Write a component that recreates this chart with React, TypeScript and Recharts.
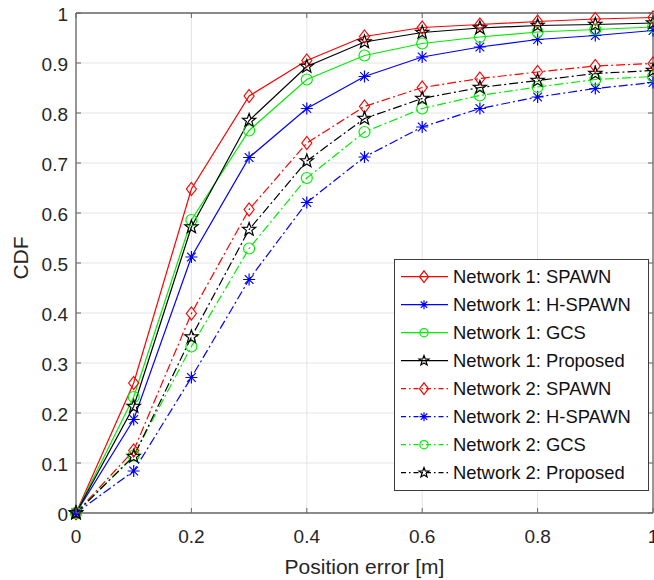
import React from "react";
import { CartesianGrid, Legend, Line, LineChart, ReferenceLine, XAxis, YAxis } from "recharts";

// CDF of position error for two networks and four localisation schemes
const positionError = [0, 0.1, 0.2, 0.3, 0.4, 0.5, 0.6, 0.7, 0.8, 0.9, 1];

const net1Spawn = [0, 0.26, 0.648, 0.834, 0.905, 0.953, 0.971, 0.977, 0.983, 0.988, 0.991];
const net1HSpawn = [0, 0.187, 0.512, 0.711, 0.809, 0.873, 0.912, 0.932, 0.947, 0.955, 0.965];
const net1Gcs = [0, 0.232, 0.586, 0.765, 0.867, 0.915, 0.939, 0.952, 0.962, 0.967, 0.972];
const net1Proposed = [0, 0.213, 0.572, 0.785, 0.893, 0.942, 0.961, 0.97, 0.975, 0.977, 0.98];

const net2Spawn = [0, 0.125, 0.399, 0.607, 0.74, 0.813, 0.851, 0.869, 0.882, 0.894, 0.899];
const net2HSpawn = [0, 0.084, 0.271, 0.467, 0.621, 0.712, 0.772, 0.809, 0.832, 0.849, 0.861];
const net2Gcs = [0, 0.115, 0.333, 0.529, 0.67, 0.762, 0.809, 0.835, 0.852, 0.867, 0.873];
const net2Proposed = [0, 0.113, 0.352, 0.567, 0.704, 0.789, 0.829, 0.851, 0.865, 0.879, 0.885];

const xTicks = [0, 0.2, 0.4, 0.6, 0.8, 1];
const yTicks = [0, 0.1, 0.2, 0.3, 0.4, 0.5, 0.6, 0.7, 0.8, 0.9, 1];

const data = positionError.map((x, i) => ({
  x,
  net1Spawn: net1Spawn[i],
  net1HSpawn: net1HSpawn[i],
  net1Gcs: net1Gcs[i],
  net1Proposed: net1Proposed[i],
  net2Spawn: net2Spawn[i],
  net2HSpawn: net2HSpawn[i],
  net2Gcs: net2Gcs[i],
  net2Proposed: net2Proposed[i],
}));

type MarkerShape = "diamond" | "asterisk" | "circle" | "pentagram";

const SERIES: { key: string; name: string; color: string; marker: MarkerShape; dashed: boolean }[] = [
  { key: "net1Spawn", name: "Network 1: SPAWN", color: "#ff0000", marker: "diamond", dashed: false },
  { key: "net1HSpawn", name: "Network 1: H-SPAWN", color: "#0000ff", marker: "asterisk", dashed: false },
  { key: "net1Gcs", name: "Network 1: GCS", color: "#00ee00", marker: "circle", dashed: false },
  { key: "net1Proposed", name: "Network 1: Proposed", color: "#000000", marker: "pentagram", dashed: false },
  { key: "net2Spawn", name: "Network 2: SPAWN", color: "#ff0000", marker: "diamond", dashed: true },
  { key: "net2HSpawn", name: "Network 2: H-SPAWN", color: "#0000ff", marker: "asterisk", dashed: true },
  { key: "net2Gcs", name: "Network 2: GCS", color: "#00ee00", marker: "circle", dashed: true },
  { key: "net2Proposed", name: "Network 2: Proposed", color: "#000000", marker: "pentagram", dashed: true },
];

const WIDTH = 654;
const HEIGHT = 580;
const MARGIN = { top: 13, right: 1, bottom: 0, left: 0 };
const Y_AXIS_WIDTH = 76;
const X_AXIS_HEIGHT = 67;
const PLOT_LEFT = MARGIN.left + Y_AXIS_WIDTH;
const PLOT_RIGHT = WIDTH - MARGIN.right;
const PLOT_TOP = MARGIN.top;
const PLOT_BOTTOM = HEIGHT - MARGIN.bottom - X_AXIS_HEIGHT;

const FONT = "'Liberation Sans', Arial, Helvetica, sans-serif";
const AXIS = "#676767";
const TEXT = "#262626";
const GRID = "#e4e4e4";
const DASH_DOT = "9 3 2 3";

const Marker = ({
  shape,
  color,
  x,
  y,
  scale = 1,
}: {
  shape: MarkerShape;
  color: string;
  x: number;
  y: number;
  scale?: number;
}) => {
  if (shape === "diamond") {
    const w = 5 * scale;
    const h = 6.5 * scale;
    return (
      <path
        d={`M${x},${y - h}L${x + w},${y}L${x},${y + h}L${x - w},${y}Z`}
        fill="none"
        stroke={color}
        strokeWidth={1.2}
      />
    );
  }
  if (shape === "circle") {
    return <circle cx={x} cy={y} r={5.5 * scale} fill="none" stroke={color} strokeWidth={1.2} />;
  }
  if (shape === "asterisk") {
    const r = 6 * scale;
    const d = r * 0.72;
    return (
      <path
        d={`M${x - r},${y}L${x + r},${y}M${x},${y - r}L${x},${y + r}M${x - d},${y - d}L${x + d},${y + d}M${x - d},${y + d}L${x + d},${y - d}`}
        stroke={color}
        strokeWidth={1.2}
      />
    );
  }
  // five-pointed star, outline only
  const outer = 7 * scale;
  const inner = 2.9 * scale;
  const pts: string[] = [];
  for (let k = 0; k < 10; k++) {
    const rad = k % 2 === 0 ? outer : inner;
    const a = -Math.PI / 2 + (k * Math.PI) / 5;
    pts.push(`${(x + rad * Math.cos(a)).toFixed(2)},${(y + rad * Math.sin(a)).toFixed(2)}`);
  }
  return <polygon points={pts.join(" ")} fill="none" stroke={color} strokeWidth={1.2} />;
};

const renderMarker = (shape: MarkerShape, color: string) => (props: any) => {
  const { cx, cy, index } = props;
  if (cx == null || cy == null) return <g key={index} />;
  return (
    <g key={index}>
      <Marker shape={shape} color={color} x={cx} y={cy} />
    </g>
  );
};

const XTick = (props: any) => {
  const { x, payload } = props;
  return (
    <g>
      <line x1={x} x2={x} y1={PLOT_BOTTOM} y2={PLOT_BOTTOM - 5} stroke={AXIS} />
      <line x1={x} x2={x} y1={PLOT_TOP} y2={PLOT_TOP + 5} stroke={AXIS} />
      <text x={x} y={PLOT_BOTTOM + 30} textAnchor="middle" fontSize={19} fontFamily={FONT} fill={TEXT}>
        {String(payload.value)}
      </text>
    </g>
  );
};

const YTick = (props: any) => {
  const { y, payload } = props;
  return (
    <g>
      <line x1={PLOT_LEFT} x2={PLOT_LEFT + 5} y1={y} y2={y} stroke={AXIS} />
      <line x1={PLOT_RIGHT} x2={PLOT_RIGHT - 5} y1={y} y2={y} stroke={AXIS} />
      <text x={PLOT_LEFT - 8} y={y} dy="0.42em" textAnchor="end" fontSize={19} fontFamily={FONT} fill={TEXT}>
        {String(payload.value)}
      </text>
    </g>
  );
};

const renderLegend = (props: any) => {
  const items = [...(props.payload ?? [])].sort(
    (a: any, b: any) =>
      SERIES.findIndex((s) => s.key === a.dataKey) - SERIES.findIndex((s) => s.key === b.dataKey)
  );
  return (
    <svg width={255} height={232} style={{ display: "block" }}>
      <rect x={0.5} y={0.5} width={254} height={231} fill="#fff" stroke="#3c3c3c" />
      {items.map((item: any, i: number) => {
        const s = SERIES.find((d) => d.key === item.dataKey);
        if (!s) return null;
        const cy = 17.7 + i * 28;
        return (
          <g key={s.key}>
            <line
              x1={7}
              x2={54}
              y1={cy}
              y2={cy}
              stroke={s.color}
              strokeWidth={1.2}
              strokeDasharray={s.dashed ? "5 3 1.5 3" : undefined}
            />
            <Marker shape={s.marker} color={s.color} x={30} y={cy} scale={s.marker === "diamond" ? 0.9 : 0.75} />
            <text x={59} y={cy} dy="0.36em" fontSize={18.4} fontFamily={FONT} fill="#111">
              {s.name}
            </text>
          </g>
        );
      })}
    </svg>
  );
};

export default function App() {
  return (
    <div style={{ position: "absolute", left: 0, top: 0, width: WIDTH, height: HEIGHT, background: "#fff" }}>
      <LineChart width={WIDTH} height={HEIGHT} data={data} margin={MARGIN}>
        <CartesianGrid stroke={GRID} strokeWidth={1} />
        <XAxis
          dataKey="x"
          type="number"
          domain={[0, 1]}
          ticks={xTicks}
          height={X_AXIS_HEIGHT}
          stroke={AXIS}
          strokeWidth={1.3}
          tickLine={false}
          tick={<XTick />}
          interval={0}
          label={{
            content: ({ viewBox }: any) => (
              <text
                x={viewBox.x + viewBox.width / 2}
                y={viewBox.y + 61}
                textAnchor="middle"
                fontSize={21}
                fontFamily={FONT}
                fill={TEXT}
              >
                Position error [m]
              </text>
            ),
          }}
        />
        <YAxis
          type="number"
          domain={[0, 1]}
          ticks={yTicks}
          width={Y_AXIS_WIDTH}
          stroke={AXIS}
          strokeWidth={1.3}
          tickLine={false}
          tick={<YTick />}
          interval={0}
          label={{
            content: () => (
              <text
                x={28}
                y={258}
                transform="rotate(-90 28 258)"
                textAnchor="middle"
                fontSize={21}
                fontFamily={FONT}
                fill={TEXT}
              >
                CDF
              </text>
            ),
          }}
        />
        <ReferenceLine y={1} stroke={AXIS} strokeWidth={1.3} />
        <ReferenceLine x={1} stroke={AXIS} strokeWidth={1.3} />
        {SERIES.map((s) => (
          <Line
            key={s.key}
            type="linear"
            dataKey={s.key}
            name={s.name}
            stroke={s.color}
            strokeWidth={1.2}
            strokeDasharray={s.dashed ? DASH_DOT : undefined}
            dot={renderMarker(s.marker, s.color)}
            activeDot={false}
            isAnimationActive={false}
          />
        ))}
        <Legend
          layout="vertical"
          align="center"
          verticalAlign="middle"
          wrapperStyle={{ left: 394, top: 259, width: 255, height: 232 }}
          content={renderLegend}
        />
      </LineChart>
    </div>
  );
}
